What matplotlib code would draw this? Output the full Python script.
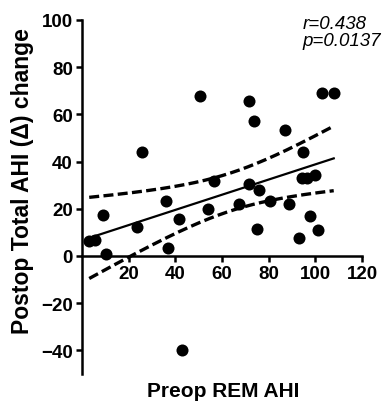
import numpy as np
import matplotlib
matplotlib.use("Agg")
import matplotlib.pyplot as plt

plt.rcParams['font.family'] = ['Liberation Sans', 'DejaVu Sans']

# values
preop_rem_ahi = [3.1, 5.6, 9.1, 10.3, 23.5, 25.6, 36.0, 37.0, 41.6, 42.8,
                 50.6, 54.2, 56.6, 67.5, 71.4, 71.7, 73.9, 75.0, 75.7, 80.4,
                 86.8, 88.6, 92.8, 94.8, 94.3, 96.5, 99.7, 97.9, 101.0, 102.9,
                 107.9]
ahi_change = [6.4, 6.8, 17.4, 1.0, 12.3, 44.0, 23.4, 3.3, 15.6, -40.0,
              67.8, 19.9, 31.9, 22.0, 65.5, 30.5, 57.3, 11.4, 28.0, 23.4,
              53.3, 22.0, 7.5, 44.0, 33.0, 33.0, 34.3, 17.0, 11.1, 69.2,
              69.2]
stats_text = "r=0.438\np=0.0137"
xticks = [20, 40, 60, 80, 100, 120]
yticks = [-40, -20, 0, 20, 40, 60, 80, 100]

x = np.array(preop_rem_ahi)
y = np.array(ahi_change)
n = len(x)

# linear fit + 95% confidence band of the mean
slope, intercept = np.polyfit(x, y, 1)
xs = np.linspace(x.min(), x.max(), 200)
fit = slope * xs + intercept
resid = y - (slope * x + intercept)
s = np.sqrt(np.sum(resid ** 2) / (n - 2))
t_crit = 2.045  # t(0.975, df=29)
se = s * np.sqrt(1.0 / n + (xs - x.mean()) ** 2 / np.sum((x - x.mean()) ** 2))
upper = fit + t_crit * se
lower = fit - t_crit * se

fig = plt.figure(figsize=(3.88, 4.02), dpi=100)
ax = fig.add_axes([0.2113, 0.0672, 0.7216, 0.8806])

ax.scatter(x, y, s=75, color='black', zorder=3, linewidths=0)
ax.plot(xs, fit, color='black', lw=1.6)
ax.plot(xs, upper, color='black', lw=2.4, dashes=(3, 1.3))
ax.plot(xs, lower, color='black', lw=2.4, dashes=(3, 1.3))

ax.set_xlim(0, 120)
ax.set_ylim(-50, 100)
ax.set_xticks(xticks)
ax.set_yticks(yticks)

ax.spines['top'].set_visible(False)
ax.spines['right'].set_visible(False)
ax.spines['bottom'].set_position(('data', 0))
ax.spines['left'].set_position(('data', 0))
for sp in ('bottom', 'left'):
    ax.spines[sp].set_linewidth(1.8)
ax.tick_params(width=1.8, length=4.5, direction='out', labelsize=13.5, pad=2)
for lab in ax.get_xticklabels() + ax.get_yticklabels():
    lab.set_fontweight('bold')

ax.text(94.5, 102, stats_text, ha='left', va='top', fontsize=13.5,
        style='italic', linespacing=1.0, clip_on=False)

fig.text(0.575, 0.027, "Preop REM AHI", ha='center', va='center',
         fontsize=15, fontweight='bold')
fig.text(0.057, 0.55, "Postop Total AHI (\u0394) change", ha='center',
         va='center', rotation=90, fontsize=16.5, fontweight='bold')

fig.savefig("out.png", dpi=100)
